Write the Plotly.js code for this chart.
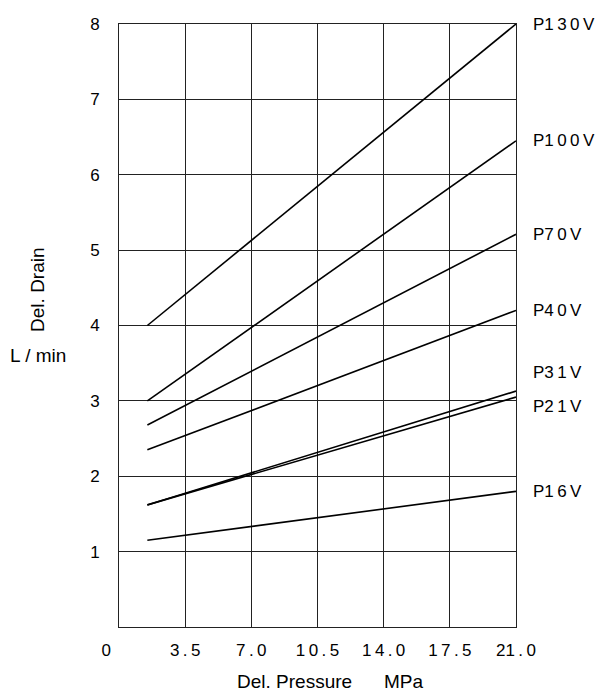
<!DOCTYPE html>
<html>
<head>
<meta charset="utf-8">
<script src="https://cdn.plot.ly/plotly-3.0.1.min.js"></script>
<style>html,body{margin:0;padding:0;background:#fff;}#chart{width:597px;height:693px;}</style>
</head>
<body>
<div id="chart"></div>
<script>
// Data
const seriesNames = ["P130V", "P100V", "P70V", "P40V", "P31V", "P21V", "P16V"];
const labelTexts = ["P1\u20093\u20090\u2009V", "P1\u20090\u20090\u2009V", "P7\u20090\u2009V", "P4\u20090\u2009V", "P3\u20091\u2009V", "P2\u20091\u2009V", "P1\u20096\u2009V"];
const pressureX = [1.5, 21.0];
const drainP130V = [4.0, 8.0];
const drainP100V = [3.0, 6.45];
const drainP70V = [2.68, 5.21];
const drainP40V = [2.35, 4.2];
const drainP31V = [1.62, 3.13];
const drainP21V = [1.62, 3.05];
const drainP16V = [1.15, 1.8];
const labelY = [8.0, 6.45, 5.21, 4.2, 3.38, 2.93, 1.8];
const xTickVals = [0, 3.5, 7.0, 10.5, 14.0, 17.5, 21.0];
const xTickText = ["0\u2003\u2002", "3\u2009.\u20095", "7\u2009.\u20090", "1\u20090\u2009.\u20095", "1\u20094\u2009.\u20090", "1\u20097\u2009.\u20095", "21\u2009.\u20090"];
const yTickVals = [1, 2, 3, 4, 5, 6, 7, 8];

const allY = [drainP130V, drainP100V, drainP70V, drainP40V, drainP31V, drainP21V, drainP16V];
const FONT = "Liberation Sans, Arial, sans-serif";
const FS = 17;
const TFS = 19;

const traces = allY.map((ys, i) => ({
  type: "scatter", mode: "lines", name: seriesNames[i],
  x: pressureX, y: ys,
  line: {color: "#000", width: 1.6},
  hoverinfo: "skip", showlegend: false
}));

const annotations = labelTexts.map((t, i) => ({
  x: 1, xref: "paper", xanchor: "left", xshift: 15,
  y: labelY[i], yref: "y", yanchor: "middle",
  text: t, showarrow: false,
  font: {family: FONT, size: FS, color: "#000"}
}));
annotations.push({
  text: "Del. Drain", textangle: -90, showarrow: false, xref: "paper", yref: "paper",
  x: -0.204, y: 0.559, xanchor: "center", yanchor: "middle",
  font: {family: FONT, size: TFS, color: "#000"}
});
annotations.push({
  text: "L / min", showarrow: false, xref: "paper", yref: "paper",
  x: -0.204, y: 0.451, xanchor: "center", yanchor: "middle",
  font: {family: FONT, size: TFS, color: "#000"}
});
annotations.push({
  text: "Del. Pressure", showarrow: false, xref: "paper", yref: "paper",
  x: 0.441, y: -0.091, xanchor: "center", yanchor: "middle",
  font: {family: FONT, size: TFS, color: "#000"}
});
annotations.push({
  text: "MPa", showarrow: false, xref: "paper", yref: "paper",
  x: 0.719, y: -0.091, xanchor: "center", yanchor: "middle",
  font: {family: FONT, size: TFS, color: "#000"}
});

const layout = {
  width: 597, height: 693,
  margin: {l: 119, r: 81, t: 24, b: 66},
  paper_bgcolor: "#fff", plot_bgcolor: "#fff",
  font: {family: FONT, size: FS, color: "#000"},
  xaxis: {
    range: [0, 21], tickmode: "array", tickvals: xTickVals, ticktext: xTickText,
    showgrid: true, gridcolor: "#222", gridwidth: 1,
    showline: true, linecolor: "#222", linewidth: 1, mirror: true,
    zeroline: false, ticks: "", ticklen: 0, ticklabelstandoff: 8,
    tickfont: {family: FONT, size: FS, color: "#000"}
  },
  yaxis: {
    range: [0, 8], tickmode: "array", tickvals: yTickVals,
    showgrid: true, gridcolor: "#222", gridwidth: 1,
    showline: true, linecolor: "#222", linewidth: 1, mirror: true,
    zeroline: false, ticks: "", ticklen: 0, ticklabelstandoff: 15,
    tickfont: {family: FONT, size: FS, color: "#000"}
  },
  annotations: annotations,
  showlegend: false
};

Plotly.newPlot("chart", traces, layout, {displayModeBar: false, staticPlot: true});
</script>
</body>
</html>
